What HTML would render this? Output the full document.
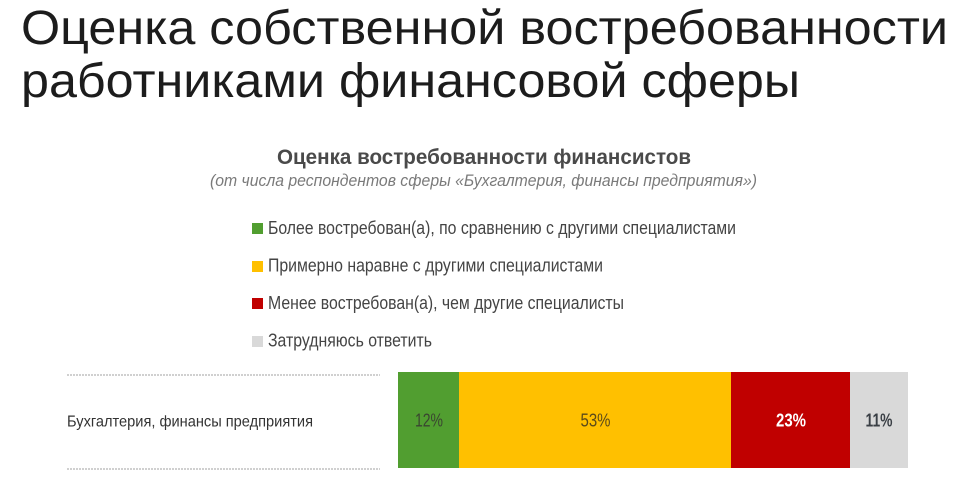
<!DOCTYPE html>
<html>
<head>
<meta charset="utf-8">
<style>
  html, body { margin:0; padding:0; background:#ffffff; }
  body { width:979px; height:489px; overflow:hidden; }
  svg { display:block; }
  text { font-family: "Liberation Sans", "DejaVu Sans", sans-serif; }
</style>
</head>
<body>
<svg width="979" height="489" viewBox="0 0 979 489" xmlns="http://www.w3.org/2000/svg">
  <rect x="0" y="0" width="979" height="489" fill="#ffffff"/>

  <!-- Main heading -->
  <text x="21" y="44" font-size="48" fill="#1c1c1c" textLength="927" lengthAdjust="spacingAndGlyphs">Оценка собственной востребованности</text>
  <text x="21" y="97" font-size="48" fill="#1c1c1c" textLength="779" lengthAdjust="spacingAndGlyphs">работниками финансовой сферы</text>

  <!-- Chart title -->
  <text x="277" y="164" font-size="21" font-weight="bold" fill="#4a4a4a" textLength="414" lengthAdjust="spacingAndGlyphs">Оценка востребованности финансистов</text>
  <text x="210" y="186" font-size="16.5" font-style="italic" fill="#7a7a7a" textLength="547" lengthAdjust="spacingAndGlyphs">(от числа респондентов сферы «Бухгалтерия, финансы предприятия»)</text>

  <!-- Legend -->
  <rect x="252" y="223" width="11" height="11" fill="#519e30"/>
  <text x="268" y="234" font-size="18" fill="#444444" textLength="468" lengthAdjust="spacingAndGlyphs">Более востребован(а), по сравнению с другими специалистами</text>

  <rect x="252" y="261" width="11" height="11" fill="#ffc000"/>
  <text x="268" y="271.5" font-size="18" fill="#444444" textLength="335" lengthAdjust="spacingAndGlyphs">Примерно наравне с другими специалистами</text>

  <rect x="252" y="298" width="11" height="11" fill="#c00000"/>
  <text x="268" y="309" font-size="18" fill="#444444" textLength="356" lengthAdjust="spacingAndGlyphs">Менее востребован(а), чем другие специалисты</text>

  <rect x="252" y="336" width="11" height="11" fill="#d9d9d9"/>
  <text x="268" y="346.5" font-size="18" fill="#444444" textLength="164" lengthAdjust="spacingAndGlyphs">Затрудняюсь ответить</text>

  <!-- Dotted separators -->
  <line x1="67" y1="375" x2="380" y2="375" stroke="#a0a0a0" stroke-width="1" stroke-dasharray="2,1"/>
  <line x1="67" y1="469" x2="380" y2="469" stroke="#a0a0a0" stroke-width="1" stroke-dasharray="2,1"/>

  <!-- Row label -->
  <text x="67" y="426.5" font-size="16" fill="#333333" textLength="246" lengthAdjust="spacingAndGlyphs">Бухгалтерия, финансы предприятия</text>

  <!-- Stacked bar -->
  <rect x="398" y="372" width="61" height="96" fill="#519e30"/>
  <rect x="459" y="372" width="272" height="96" fill="#ffc000"/>
  <rect x="731" y="372" width="119" height="96" fill="#c00000"/>
  <rect x="850" y="372" width="58" height="96" fill="#d9d9d9"/>

  <!-- Bar values -->
  <text x="415" y="426.5" font-size="18" fill="#3a4530" textLength="28" lengthAdjust="spacingAndGlyphs">12%</text>
  <text x="580.5" y="426.5" font-size="18" fill="#5a4a1a" textLength="30" lengthAdjust="spacingAndGlyphs">53%</text>
  <text x="776" y="426.5" font-size="18" font-weight="bold" fill="#ffffff" textLength="30" lengthAdjust="spacingAndGlyphs">23%</text>
  <text x="865.5" y="426.5" font-size="18" font-weight="bold" fill="#3a3f45" textLength="27" lengthAdjust="spacingAndGlyphs">11%</text>
</svg>
</body>
</html>
